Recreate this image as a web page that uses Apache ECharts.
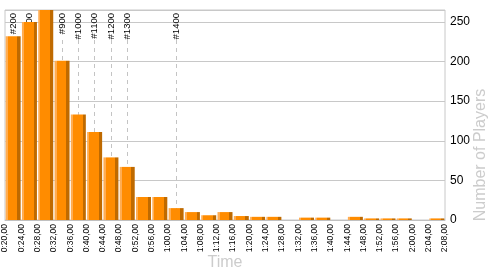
<!DOCTYPE html>
<html>
<head>
<meta charset="utf-8">
<script src="https://cdn.jsdelivr.net/npm/echarts@6/dist/echarts.min.js"></script>
<style>
html,body{margin:0;padding:0;background:#fff;}
#chart{width:500px;height:275px;}
</style>
</head>
<body>
<div id="chart"></div>
<script>
// Bins (4-minute intervals), labelled by their start
var bins = ['0:20','0:24','0:28','0:32','0:36','0:40','0:44','0:48','0:52','0:56','1:00','1:04','1:08','1:12','1:16','1:20','1:24','1:28','1:32','1:36','1:40','1:44','1:48','1:52','1:56','2:00','2:04'];
// Number of players finishing in each bin
var players = [232,250,267,201,133,111,79,67,29,29,15,10,6,10,5,4,4,0,3,3,0,4,2,2,2,0,2];
// Tick labels on bin boundaries
var tickLabels = ['0:20,00','0:24,00','0:28,00','0:32,00','0:36,00','0:40,00','0:44,00','0:48,00','0:52,00','0:56,00','1:00,00','1:04,00','1:08,00','1:12,00','1:16,00','1:20,00','1:24,00','1:28,00','1:32,00','1:36,00','1:40,00','1:44,00','1:48,00','1:52,00','1:56,00','2:00,00','2:04,00','2:08,00'];
// Rank markers and the bin they fall in
var markerLabels = ['#200','#400','#700','#900','#1000','#1100','#1200','#1300','#1400'];
var markerBins = [0,1,2,3,4,5,6,7,10];
var yTicks = [0,50,100,150,200,250];

var Y_MAX = 265;
var LINE_TOP = 227;
var FONT = 'Liberation Sans, Arial, sans-serif';

var mlData = [];
markerBins.forEach(function(b, i){
  mlData.push([
    {coord:[b, 0], lineStyle:{color:'#c4c4c4', width:1, type:[4,4]}, label:{show:false}},
    {coord:[b, LINE_TOP]}
  ]);
  mlData.push([
    {coord:[b, LINE_TOP], lineStyle:{color:'rgba(255,255,255,0)', width:1, type:'solid'},
     label:{show:true, position:'insideEnd', formatter:markerLabels[i], distance:3,
            color:'#000', fontSize:9.5, fontFamily:FONT}},
    {coord:[b, Y_MAX]}
  ]);
});

var chart = echarts.init(document.getElementById('chart'), null, {renderer:'canvas'});
chart.setOption({
  animation:false,
  backgroundColor:'#fff',
  grid:{left:5, right:55, top:10, bottom:55, show:true, borderColor:'#c8c8c8', borderWidth:1,
        containLabel:false, outerBoundsMode:'none'},
  xAxis:[
    {type:'category', data:bins, boundaryGap:true, position:'bottom',
     axisLine:{show:true, lineStyle:{color:'#c0c0c0'}}, axisTick:{show:false},
     axisLabel:{show:false}, splitLine:{show:false}},
    {type:'category', data:tickLabels, boundaryGap:false, position:'bottom',
     axisLine:{show:false}, axisTick:{show:false}, splitLine:{show:false},
     axisLabel:{show:true, rotate:90, interval:0, margin:4, color:'#000', fontSize:8.5, fontFamily:FONT},
     name:'Time', nameLocation:'middle', nameGap:35, nameMoveOverlap:false,
     nameTextStyle:{color:'#cccccc', fontSize:16, fontFamily:FONT}}
  ],
  yAxis:{type:'value', position:'right', min:0, max:Y_MAX, interval:50,
    axisLine:{show:false}, axisTick:{show:false},
    axisLabel:{color:'#000', fontSize:12, margin:5, fontFamily:FONT,
      formatter:function(v){ return yTicks.indexOf(v) >= 0 ? String(v) : ''; }},
    splitLine:{show:true, lineStyle:{color:'#c8c8c8', width:1}},
    name:'Number of Players', nameLocation:'middle', nameGap:28, nameRotate:90, nameMoveOverlap:false,
    nameTextStyle:{color:'#cccccc', fontSize:16, fontFamily:FONT, padding:[0,80,0,0]}
  },
  series:[{
    type:'bar', xAxisIndex:0, data:players, barWidth:15, z:2,
    itemStyle:{color:{type:'linear', x:0, y:0, x2:1, y2:0, colorStops:[
      {offset:0, color:'#ffad52'},{offset:0.14, color:'#ffad52'},
      {offset:0.14, color:'#ff8c00'},{offset:0.78, color:'#ff8c00'},
      {offset:0.78, color:'#bf6a00'},{offset:1, color:'#bf6a00'}]}},
    markLine:{z:1, silent:true, symbol:['none','none'], animation:false, data:mlData}
  }]
});
</script>
</body>
</html>
